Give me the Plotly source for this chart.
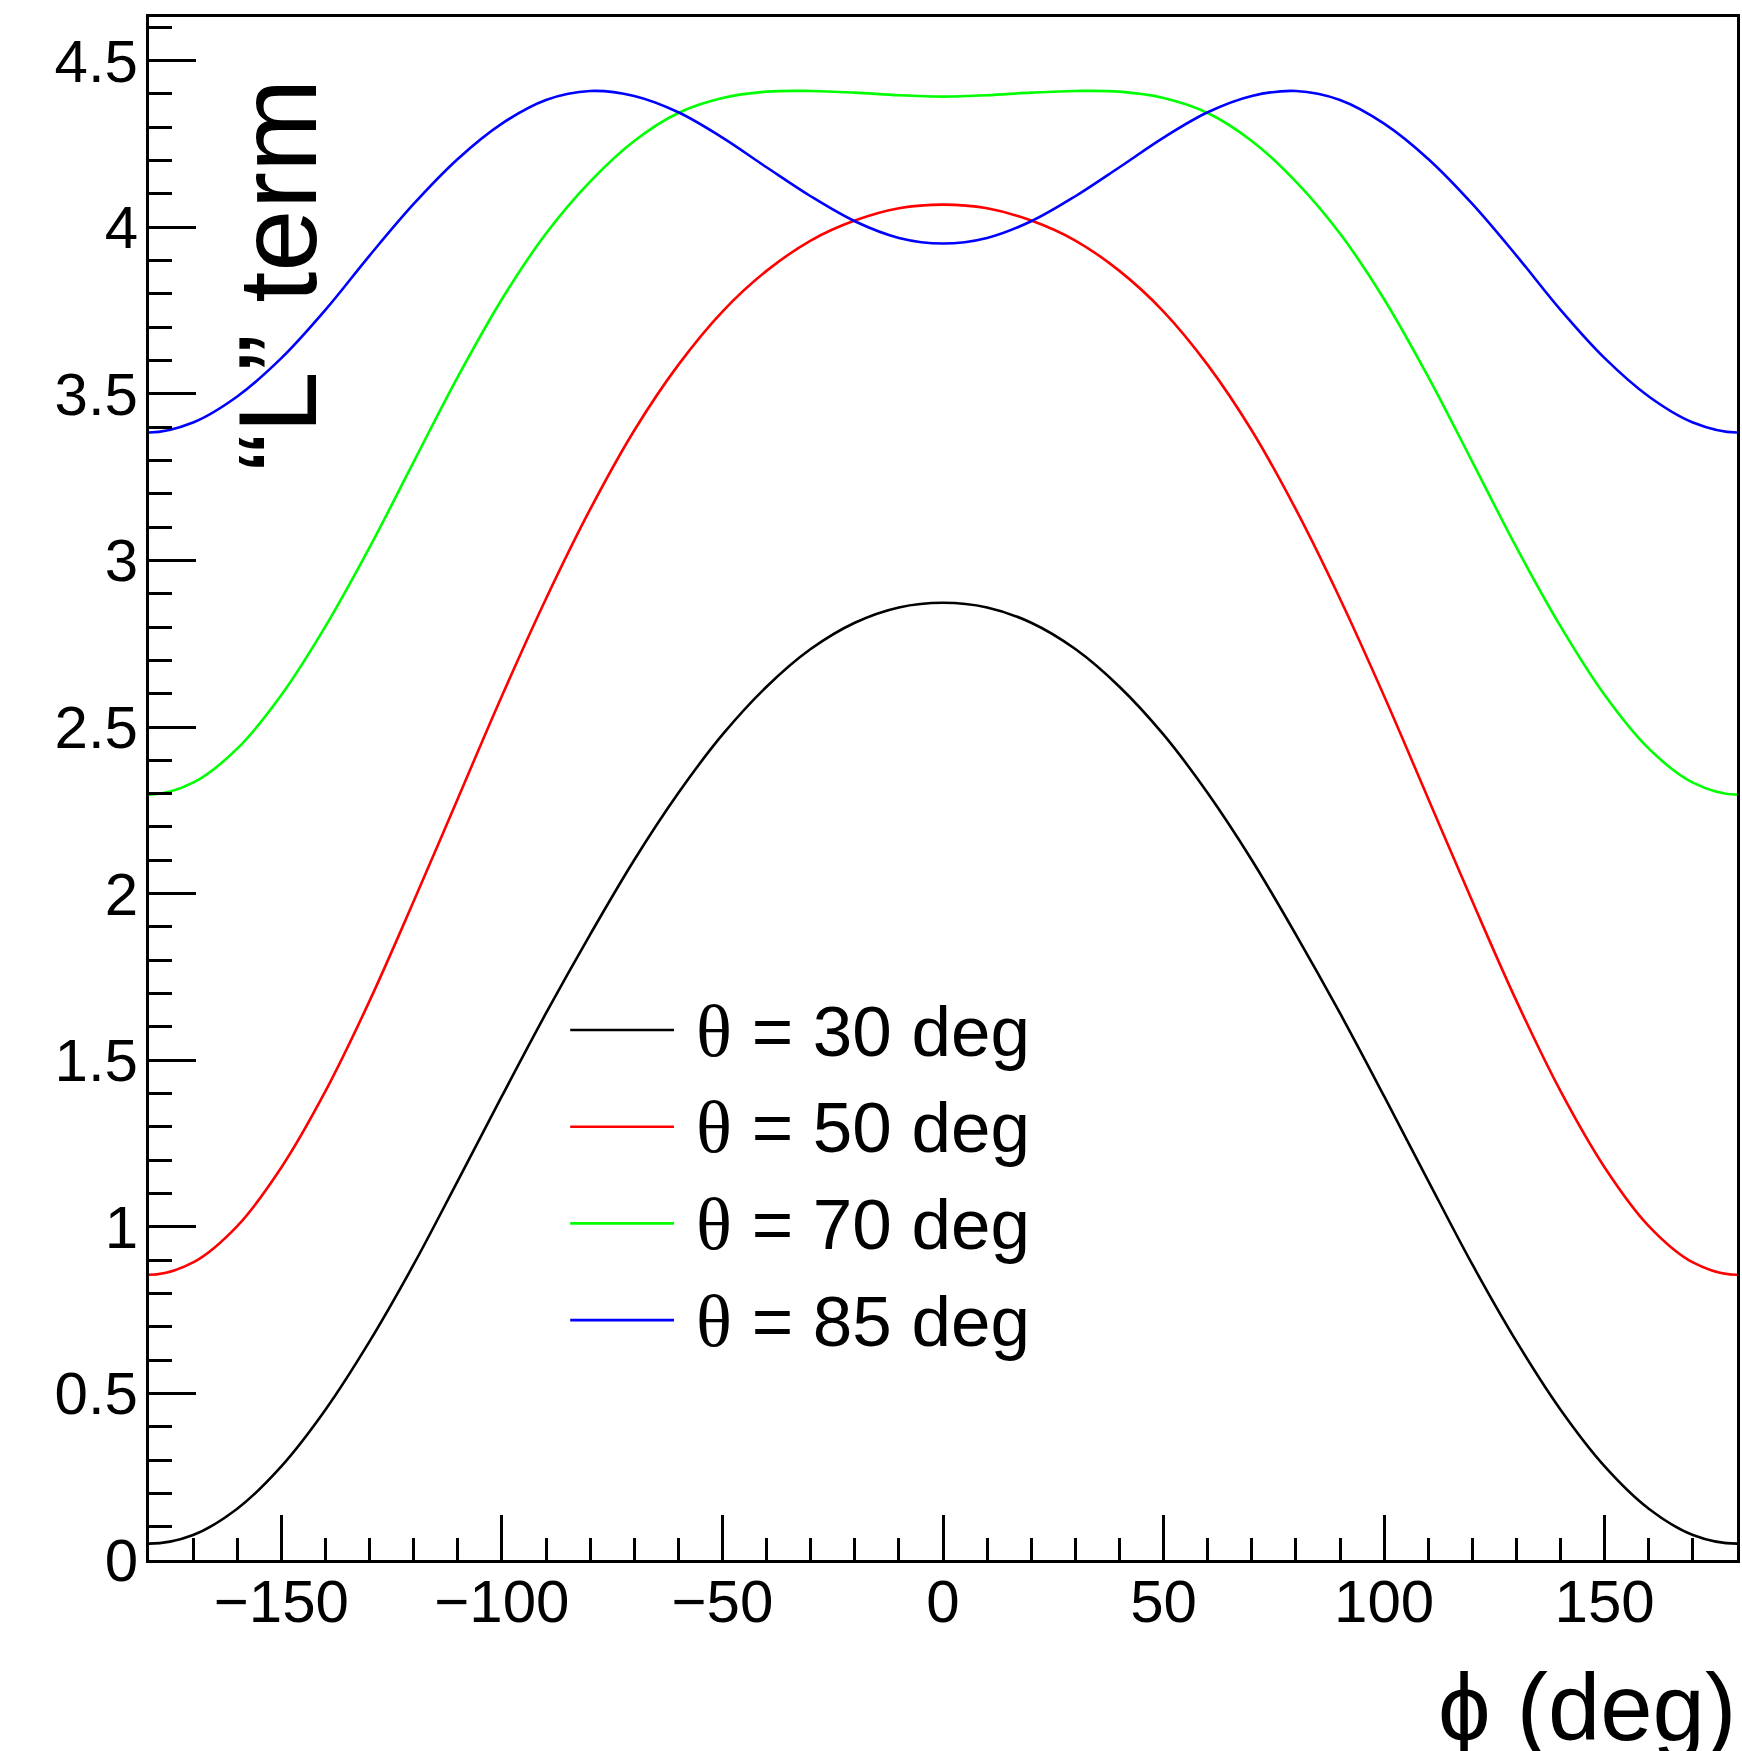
import plotly.graph_objects as go

# ---------------- data ----------------
phi_half = [-180, -170, -160, -150, -140, -130, -120, -110, -100, -90,
            -80, -70, -60, -50, -40, -30, -20, -10, 0]

theta30_half = [0.049, 0.075, 0.154, 0.281, 0.451, 0.656, 0.887, 1.138, 1.392, 1.641,
                1.877, 2.101, 2.302, 2.477, 2.621, 2.734, 2.813, 2.859, 2.873]
theta50_half = [0.856, 0.893, 1.002, 1.178, 1.407, 1.678, 1.977, 2.285, 2.593, 2.885,
                3.153, 3.39, 3.587, 3.747, 3.869, 3.96, 4.02, 4.057, 4.068]
theta70_half = [2.297, 2.333, 2.435, 2.596, 2.802, 3.039, 3.296, 3.551, 3.784, 3.981,
                4.137, 4.259, 4.343, 4.388, 4.407, 4.409, 4.404, 4.396, 4.392]
theta85_half = [3.384, 3.414, 3.492, 3.607, 3.752, 3.915, 4.07, 4.205, 4.311, 4.382,
                4.409, 4.394, 4.345, 4.269, 4.18, 4.093, 4.018, 3.968, 3.951]

series_names = ["θ = 30 deg", "θ = 50 deg", "θ = 70 deg", "θ = 85 deg"]
series_theta = ["30", "50", "70", "85"]
series_colors = ["#000000", "#ff0000", "#00ff00", "#0000ff"]
series_half = [theta30_half, theta50_half, theta70_half, theta85_half]

x_title = "ϕ (deg)"
y_title = "“L” term"

# ---------------- build symmetric (periodic) curves ----------------
# phi is an angle: the value at -190 equals the value at +170 (= value at -170),
# one wrapped point on each side keeps the spline flat at the frame edges.
phi_core = phi_half + [-p for p in reversed(phi_half[:-1])]
phi = [phi_half[0] - (phi_half[1] - phi_half[0])] + phi_core + [-(phi_half[0] - (phi_half[1] - phi_half[0]))]

W, H = 1742, 1751
L, R, T, B = 149, 2, 17, 191
PW = W - L - R
PH = H - T - B


def px_x(X):
    return (X - L) / PW


def px_y(Y):
    return (H - B - Y) / PH


fig = go.Figure()
for name, col, half in zip(series_names, series_colors, series_half):
    vals = half + list(reversed(half[:-1]))
    vals = [half[1]] + vals + [half[1]]
    fig.add_trace(go.Scatter(x=phi, y=vals, mode="lines", name=name,
                             line=dict(color=col, width=2.6, shape="spline", smoothing=1.0),
                             showlegend=False))

# ---------------- manual legend (ROOT-style) ----------------
leg_line_x0, leg_line_x1 = 571, 675
leg_text_x = 695
leg_y0 = 1030
leg_dy = 96.7
for i, (th, col) in enumerate(zip(series_theta, series_colors)):
    yy = px_y(leg_y0 + i * leg_dy)
    fig.add_shape(type="line", xref="paper", yref="paper",
                  x0=px_x(leg_line_x0), x1=px_x(leg_line_x1), y0=yy, y1=yy,
                  line=dict(color=col, width=2.6))
    fig.add_annotation(xref="paper", yref="paper", x=px_x(leg_text_x), y=yy,
                       xanchor="left", yanchor="middle", showarrow=False,
                       text='<span style="font-family:Liberation Serif;font-size:75px">θ</span> = ' + th + " deg",
                       font=dict(family="Liberation Sans", size=71, color="black"))

# axis titles (ROOT places them at the axis ends)
fig.add_annotation(xref="paper", yref="paper", x=px_x(1741), y=px_y(1707),
                   xanchor="right", yanchor="middle", showarrow=False,
                   text=x_title, font=dict(family="Liberation Sans", size=94, color="black"))
fig.add_annotation(xref="paper", yref="paper", x=px_x(278), y=px_y(275),
                   xanchor="center", yanchor="middle", showarrow=False, textangle=-90,
                   text=y_title, font=dict(family="Liberation Sans", size=112, color="black"))

axis_common = dict(showline=True, linecolor="black", linewidth=3, mirror=True,
                   showgrid=False, zeroline=False, ticks="inside", tickcolor="black",
                   tickwidth=2.5,
                   tickfont=dict(family="Liberation Sans", size=60, color="black"))

fig.update_xaxes(range=[-180, 180], tick0=0, dtick=50, ticklen=45,
                 minor=dict(dtick=10, tick0=0, ticks="inside", ticklen=22,
                            tickwidth=2.5, tickcolor="black", showgrid=False),
                 ticklabelstandoff=-13,
                 **axis_common)
fig.update_yaxes(range=[0, 4.631], tick0=0, dtick=0.5, ticklen=47,
                 minor=dict(dtick=0.1, tick0=0, ticks="inside", ticklen=23,
                            tickwidth=2.5, tickcolor="black", showgrid=False),
                 ticklabelstandoff=-4,
                 **axis_common)

fig.update_layout(width=W, height=H, margin=dict(l=L, r=R, t=T, b=B, pad=0),
                  paper_bgcolor="white", plot_bgcolor="white", showlegend=False)

fig.write_html("out.html")
